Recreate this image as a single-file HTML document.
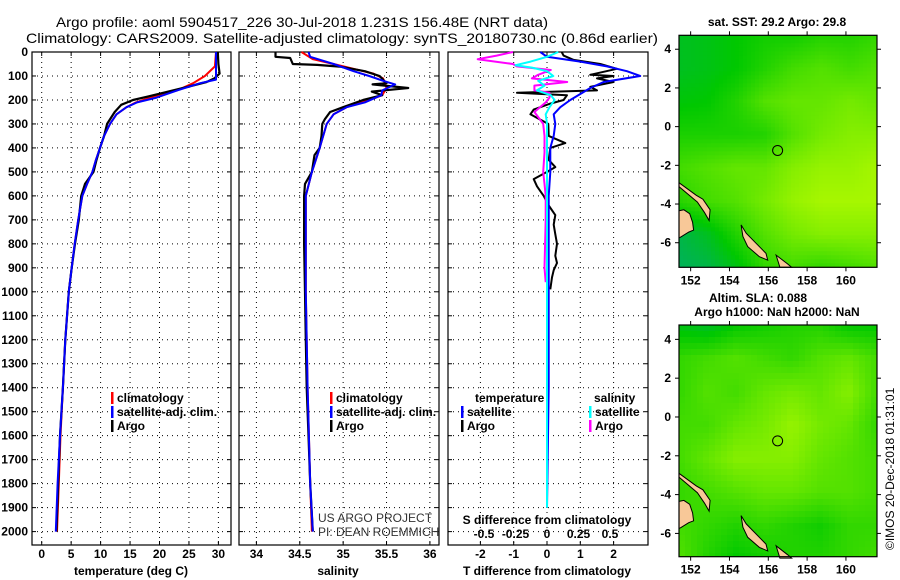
<!DOCTYPE html>
<html><head><meta charset="utf-8"><style>
html,body{margin:0;padding:0;background:#fff;}
svg{display:block;font-family:"Liberation Sans",sans-serif;}
.tk{font-size:12px;font-weight:bold;fill:#000;}
.lg{font-size:12px;font-weight:bold;fill:#000;}
</style></head><body>
<svg id="fig" width="900" height="580" viewBox="0 0 900 580" xmlns="http://www.w3.org/2000/svg">
<rect width="900" height="580" fill="#fff"/>
<text x="56" y="27" font-size="14" textLength="492" lengthAdjust="spacingAndGlyphs">Argo profile: aoml 5904517_226 30-Jul-2018 1.231S 156.48E (NRT data)</text>
<text x="26" y="43" font-size="14" textLength="632" lengthAdjust="spacingAndGlyphs">Climatology: CARS2009. Satellite-adjusted climatology: synTS_20180730.nc (0.86d earlier)</text>
<g id="g"></g>
</svg>
<script>
// ---- temperature panel data ----
const tArgoDepth=[0,50,90,110,125,150,185,200,220,250,300,350,400,450,500,550,600,700,800,900,1000,1200,1400,1600,1800,2000];
const tArgoVal=[29.9,30.0,30.2,29.3,28.0,24.0,18.1,15.5,13.5,12.4,11.1,10.6,9.9,9.3,8.8,7.35,6.7,6.3,5.65,5.1,4.6,4.0,3.6,3.1,2.8,2.5];
const tClimDepth=[0,60,100,130,160,185,210,230,260,300,350,400,450,500,550,600,700,800,900,1000,1200,1400,1600,1800,2000];
const tClimVal=[29.6,29.4,27.7,25.7,23,19,16,14.4,12.7,11.6,10.6,9.9,9.2,8.6,7.7,6.9,6.2,5.6,5.1,4.6,4.0,3.6,3.2,2.9,2.6];
const tSatDepth=[0,115,130,160,190,210,230,260,300,350,400,450,500,550,600,700,800,900,1000,1200,1400,1600,1800,2000];
const tSatVal=[29.6,29.6,26.9,23,19.5,16.2,14.4,12.7,11.6,10.6,9.9,9.2,8.6,7.7,6.9,6.2,5.6,5.1,4.6,4.0,3.6,3.1,2.7,2.4];
// ---- salinity panel data ----
const sArgoDepth=[0,20,25,50,54,61,80,100,130,135,150,165,180,200,230,250,280,300,350,400,430,500,550,600,800,1000,1200,1400,1600,1800,2000];
const sArgoVal=[34.22,34.22,34.39,34.42,34.7,34.96,35.25,35.42,35.5,35.34,35.75,35.33,35.45,35.23,35.0,34.85,34.79,34.76,34.75,34.73,34.67,34.64,34.56,34.55,34.55,34.56,34.57,34.58,34.6,34.62,34.65];
const sClimDepth=[0,30,50,70,90,110,150,180,200,230,260,300,400,500,600,1000,1400,1800,2000];
const sClimVal=[34.52,34.65,34.89,35.12,35.35,35.46,35.5,35.45,35.3,35.04,34.89,34.81,34.73,34.64,34.57,34.57,34.59,34.62,34.64];
const sSatDepth=[0,20,50,80,100,120,135,160,180,210,230,260,300,400,500,600,1000,1400,1800,2000];
const sSatVal=[34.6,34.62,34.89,35.12,35.3,35.46,35.6,35.45,35.44,35.25,35.04,34.89,34.81,34.73,34.64,34.57,34.57,34.59,34.62,34.65];
// ---- difference panel data ----
const dtArgoDepth=[0,15,33,50,70,95,100,110,125,145,160,170,180,200,215,240,260,275,300,350,380,400,450,480,500,530,560,580,600,640,680,720,760,800,850,880,910,940,990];
const dtArgoVal=[0.44,0.5,0.8,1.6,2.1,1.3,2.0,1.5,2.0,1.3,1.5,-0.9,0.6,0.5,0.1,-0.4,-0.5,-0.3,0.04,0.05,0.55,0.1,0.05,0.25,0.0,-0.4,-0.3,-0.2,-0.1,0.05,0.25,0.2,0.25,0.3,0.25,0.3,0.2,0.15,0.1];
const dtSatDepth=[0,20,40,60,80,100,125,150,175,200,230,260,300,350,400,500,600,1000,1400,1900];
const dtSatVal=[-0.2,0.0,1.0,1.8,2.4,2.8,1.7,1.3,1.0,0.7,0.4,0.2,0.25,0.2,0.1,0.1,0.05,0.05,0.05,0.0];
const dsArgoDepth=[0,15,30,50,60,75,95,110,125,140,160,170,190,210,250,300,350,420,500,550,600,700,900,960];
const dsArgoVal=[-0.27,-0.4,-0.55,-0.27,-0.24,0.03,-0.07,-0.12,0.16,-0.1,-0.1,0.02,0.02,-0.01,-0.1,-0.03,-0.02,-0.02,-0.03,-0.02,-0.01,-0.01,-0.02,-0.01];
const dsSatDepth=[0,20,40,55,65,80,100,120,140,160,180,200,230,260,300,600,1000,1400,1900];
const dsSatVal=[0.09,0.0,-0.13,-0.25,-0.12,0.0,0.05,-0.07,-0.02,-0.08,0.03,0.06,0.02,-0.01,0.0,0.0,0.0,0.0,0.0];
// ---- tick labels ----
const depthTicks=[0,100,200,300,400,500,600,700,800,900,1000,1100,1200,1300,1400,1500,1600,1700,1800,1900,2000];
const tempTicks=[0,5,10,15,20,25,30];
const salTicks=[34,34.5,35,35.5,36];
const dtTicks=[-2,-1,0,1,2];
const dsTicks=[-0.5,-0.25,0,0.25,0.5];
const lonTicks=[152,154,156,158,160];
const latTicks=[4,2,0,-2,-4,-6];
// ---- map field grids (coarse, 8 cols x 8 rows, north to south) ----
const sstGrid=[
[.22,.25,.3,.35,.35,.4,.4,.45],
[.22,.25,.3,.4,.5,.55,.5,.55],
[.28,.3,.4,.55,.6,.6,.65,.6],
[.38,.38,.38,.4,.55,.65,.7,.7],
[.5,.55,.6,.6,.7,.75,.75,.8],
[.42,.5,.55,.65,.75,.8,.8,.8],
[.12,.22,.4,.55,.65,.7,.7,.7],
[.08,.12,.25,.45,.5,.45,.5,.55]];
const slaGrid=[
[.25,.2,.3,.35,.4,.4,.3,.3],
[.45,.5,.55,.5,.45,.55,.6,.5],
[.45,.55,.5,.6,.65,.6,.7,.5],
[.5,.5,.6,.65,.75,.65,.6,.45],
[.5,.6,.7,.7,.7,.6,.55,.5],
[.45,.5,.55,.6,.6,.55,.55,.5],
[.5,.45,.4,.45,.4,.35,.45,.45],
[.55,.4,.3,.35,.4,.4,.45,.5]];
const floatLon=156.48, floatLat=-1.231;

const NS="http://www.w3.org/2000/svg";
const G=document.getElementById('g');
function el(tag,attrs,parent){const e=document.createElementNS(NS,tag);for(const k in attrs)e.setAttribute(k,attrs[k]);(parent||G).appendChild(e);return e;}
const Y0=52, PXM=0.2398, YB=545;
const yD=d=>Y0+d*PXM;

function panel(name,x0,x1,xs,ticks,fmt,yLabels){
  const g=el('g',{});
  
  
  depthTicks.forEach(d=>{const y=yD(d);if(y>Y0&&y<YB){const l=el('line',{x1:x0,x2:x1,y1:y,y2:y,stroke:'#000','stroke-width':1,'stroke-dasharray':'1,4'},g);
    el('line',{x1:x0,x2:x0+4,y1:y,y2:y,stroke:'#000'},g);el('line',{x1:x1-4,x2:x1,y1:y,y2:y,stroke:'#000'},g);}
    if(yLabels){const t=el('text',{x:28,y:y+4,'text-anchor':'end',class:'tk'},g);t.textContent=d;}
  });
  ticks.forEach(v=>{const x=xs(v);const l=el('line',{x1:x,x2:x,y1:Y0,y2:YB,stroke:'#000','stroke-dasharray':'1,4'},g);
    el('line',{x1:x,x2:x,y1:Y0,y2:Y0+4,stroke:'#000'},g);el('line',{x1:x,x2:x,y1:YB-4,y2:YB,stroke:'#000'},g);
    const t=el('text',{x:x,y:558,'text-anchor':'middle',class:'tk'},g);t.textContent=fmt(v);});
  const r=el('rect',{x:x0,y:Y0,width:x1-x0,height:YB-Y0,fill:'none',stroke:'#000','stroke-width':1.2},g);
  
  return g;
}
function line(name,depths,vals,xs,color,w){
  let d='';depths.forEach((dep,i)=>{d+=(i?'L':'M')+xs(vals[i]).toFixed(1)+','+yD(dep).toFixed(1);});
  const p=el('path',{d:d,fill:'none',stroke:color,'stroke-width':w||2,'stroke-linejoin':'round'});
  
}
function text(name,x,y,s,cls,extra){const t=el('text',Object.assign({x:x,y:y,class:cls||'lg'},extra||{}));t.textContent=s;return t;}
function legendBar(name,x,y,color){const r=el('rect',{x:x,y:y-10,width:2.5,height:12,fill:color});}

// Panel 1: temperature
const xT=v=>41.7+v*5.89;
panel('temperature-panel',32,231,xT,tempTicks,v=>v,true);
line('temp-climatology-line',tClimDepth,tClimVal,xT,'#ff0000',2);
line('temp-argo-line',tArgoDepth,tArgoVal,xT,'#000',2.2);
line('temp-satellite-line',tSatDepth,tSatVal,xT,'#0000ff',2);
text('temperature-axis-title',131,575,'temperature (deg C)','lg',{'text-anchor':'middle'});
legendBar('legend-climatology-swatch',111,402,'#ff0000');text('legend-climatology',117,402,'climatology');
legendBar('legend-satellite-swatch',111,416,'#0000ff');text('legend-satellite-adj',117,416,'satellite-adj. clim.');
legendBar('legend-argo-swatch',111,430,'#000');text('legend-argo',117,430,'Argo');

// Panel 2: salinity
const xS=v=>256.4+(v-34)*86.75;
panel('salinity-panel',239,439,xS,salTicks,v=>v,false);
line('sal-climatology-line',sClimDepth,sClimVal,xS,'#ff0000',2);
line('sal-argo-line',sArgoDepth,sArgoVal,xS,'#000',2.2);
line('sal-satellite-line',sSatDepth,sSatVal,xS,'#0000ff',2);
text('salinity-axis-title',338,575,'salinity','lg',{'text-anchor':'middle'});
legendBar('legend2-climatology-swatch',330,402,'#ff0000');text('legend2-climatology',336,402,'climatology');
legendBar('legend2-satellite-swatch',330,416,'#0000ff');text('legend2-satellite-adj',336,416,'satellite-adj. clim.');
legendBar('legend2-argo-swatch',330,430,'#000');text('legend2-argo',336,430,'Argo');
text('project-credit',318,522,'US ARGO PROJECT','lg',{'style':'font-weight:normal;fill:#333'});
text('pi-credit',318,536,'PI: DEAN ROEMMICH','lg',{'style':'font-weight:normal;fill:#333'});

// Panel 3: differences
const xDT=v=>547+v*33.3;
const xDS=v=>547+v*126;
panel('difference-panel',448,648,xDT,dtTicks,v=>v,false);
line('tdiff-argo-line',dtArgoDepth,dtArgoVal,xDT,'#000',2);
line('tdiff-satellite-line',dtSatDepth,dtSatVal,xDT,'#0000ff',2);
line('sdiff-argo-line',dsArgoDepth,dsArgoVal,xDS,'#ff00ff',2);
line('sdiff-satellite-line',dsSatDepth,dsSatVal,xDS,'#00ffff',2);
text('s-diff-axis-title',547,524,'S difference from climatology','lg',{'text-anchor':'middle'});
dsTicks.forEach(v=>{text('s-diff-tick-label',xDS(v),538,String(v),'tk',{'text-anchor':'middle'});});
text('t-diff-axis-title',547,575,'T difference from climatology','lg',{'text-anchor':'middle'});
text('legend3-temperature-heading',475,402,'temperature');
legendBar('legend3-tsat-swatch',461,416,'#0000ff');text('legend3-tsat',467,416,'satellite');
legendBar('legend3-targo-swatch',461,430,'#000');text('legend3-targo',467,430,'Argo');
text('legend3-salinity-heading',594,402,'salinity');
legendBar('legend3-ssat-swatch',589,416,'#00ffff');text('legend3-ssat',595,416,'satellite');
legendBar('legend3-sargo-swatch',589,430,'#ff00ff');text('legend3-sargo',595,430,'Argo');

// ---- Maps ----
function cmap(v){
  const stops=[[0,[0,170,120]],[0.3,[0,200,0]],[0.6,[100,230,0]],[0.9,[200,255,0]],[1,[220,255,0]]];
  for(let i=1;i<stops.length;i++){if(v<=stops[i][0]){const a=stops[i-1],b=stops[i];const f=(v-a[0])/(b[0]-a[0]);
    return 'rgb('+a[1].map((c,j)=>Math.round(c+(b[1][j]-c)*f)).join(',')+')';}}
  return 'rgb(220,255,0)';
}
const land=[
 [[151.4,-2.9],[152.29,-3.55],[152.63,-3.75],[153.0,-4.3],[152.95,-4.85],[152.72,-4.45],[152.35,-3.9],[151.4,-3.1]],
 [[151.4,-4.35],[151.65,-4.3],[151.95,-4.5],[152.1,-4.95],[152.15,-5.35],[151.9,-5.45],[151.5,-5.7],[151.4,-5.75]],
 [[154.6,-5.08],[154.86,-5.51],[155.37,-6.03],[155.88,-6.55],[155.97,-6.9],[155.54,-6.72],[154.94,-6.2],[154.69,-5.68]],
 [[156.4,-6.64],[157.0,-7.1],[157.2,-7.27],[156.6,-7.27]]
];
function map(name,x0,x1,yTop,yBot,latTop,latBot,grid,cell){
  const g=el('g',{});
  const lon0=151.4,lon1=161.6;
  const mx=l=>x0+(l-lon0)/(lon1-lon0)*(x1-x0);
  const my=l=>yTop+(latTop-l)/(latTop-latBot)*(yBot-yTop);
  const rows=grid.length,cols=grid[0].length;
  const nx=Math.ceil((x1-x0)/cell),ny=Math.ceil((yBot-yTop)/cell);
  for(let j=0;j<ny;j++)for(let i=0;i<nx;i++){
    const fx=(i+0.5)/nx*(cols-1),fy=(j+0.5)/ny*(rows-1);
    const ix=Math.min(Math.floor(fx),cols-2),iy=Math.min(Math.floor(fy),rows-2);
    const ax=fx-ix,ay=fy-iy;
    const v=grid[iy][ix]*(1-ax)*(1-ay)+grid[iy][ix+1]*ax*(1-ay)+grid[iy+1][ix]*(1-ax)*ay+grid[iy+1][ix+1]*ax*ay;
    const c=el('rect',{x:x0+i*cell,y:yTop+j*cell,width:Math.min(cell,x1-x0-i*cell)+0.3,height:Math.min(cell,yBot-yTop-j*cell)+0.3,fill:cmap(v)},g);
    
  }
  land.forEach(poly=>{const p=el('polygon',{points:poly.map(q=>mx(q[0]).toFixed(1)+','+my(q[1]).toFixed(1)).join(' '),fill:'#f8c898',stroke:'#000','stroke-width':1},g);
    });
  const c=el('circle',{cx:mx(floatLon),cy:my(floatLat),r:5,fill:'none',stroke:'#000','stroke-width':1},g);
  
  const f=el('rect',{x:x0,y:yTop,width:x1-x0,height:yBot-yTop,fill:'none',stroke:'#000','stroke-width':1.2},g);
  
  lonTicks.forEach(l=>{const x=mx(l);el('line',{x1:x,x2:x,y1:yTop-4,y2:yTop,stroke:'#000'},g);el('line',{x1:x,x2:x,y1:yBot,y2:yBot+4,stroke:'#000'},g);
    const t=el('text',{x:x,y:yBot+17,'text-anchor':'middle',class:'tk'},g);t.textContent=l;});
  latTicks.forEach(l=>{const y=my(l);el('line',{x1:x0-4,x2:x0,y1:y,y2:y,stroke:'#000'},g);el('line',{x1:x1,x2:x1+4,y1:y,y2:y,stroke:'#000'},g);
    const t=el('text',{x:x0-8,y:y+4,'text-anchor':'end',class:'tk'},g);t.textContent=l;});
}
map('sst-map',679,877,35.3,267.3,4.72,-7.27,sstGrid,4);
map('sla-map',679,877,325,556.7,4.74,-7.2,slaGrid,6);
text('sst-map-title',777,26,'sat. SST: 29.2 Argo: 29.8','lg',{'text-anchor':'middle'});
text('sla-map-title',758,302,'Altim. SLA: 0.088','lg',{'text-anchor':'middle'});
text('sla-map-subtitle',777,316,'Argo h1000: NaN h2000: NaN','lg',{'text-anchor':'middle'});
text('imos-timestamp',0,0,'©IMOS 20-Dec-2018 01:31:01','lg',{'style':'font-weight:normal','transform':'translate(894,550) rotate(-90)'});
</script>
</body></html>
